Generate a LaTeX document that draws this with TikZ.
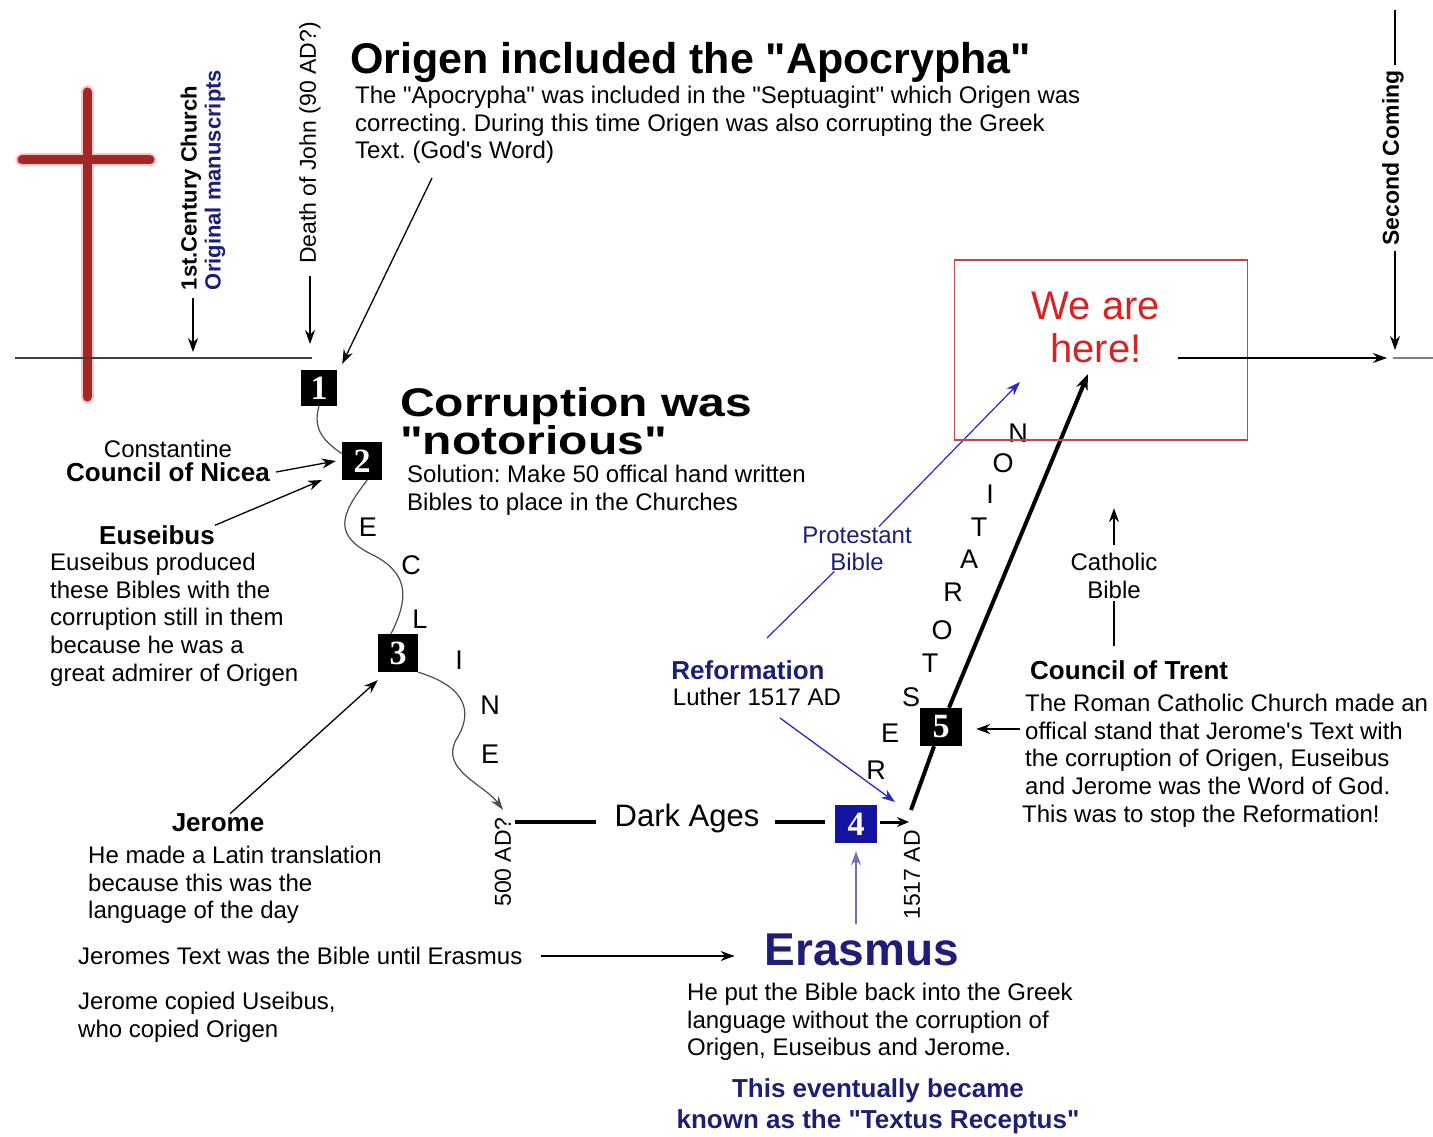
\documentclass[tikz,border=0pt]{standalone}
\usepackage{fontspec}
\setmainfont{Liberation Sans}[Ligatures=TeXOff]
\newfontfamily\numfont{Liberation Serif}
\usetikzlibrary{arrows.meta,positioning,calc}
\definecolor{crossred}{RGB}{160,40,40}
\definecolor{navyblue}{RGB}{30,30,120}
\definecolor{boxblue}{RGB}{20,20,160}
\definecolor{herered}{RGB}{215,35,35}
\definecolor{framered}{RGB}{195,70,70}
\definecolor{erasarrow}{RGB}{120,110,180}
\definecolor{protblue}{RGB}{40,40,200}
\frenchspacing

\begin{document}
\begin{tikzpicture}[x=1pt,y=-1pt,
    body/.style={font=\fontsize{24}{27.7}\selectfont, align=left, inner sep=0pt},
    head/.style={font=\fontsize{26}{31}\selectfont\bfseries, inner sep=0pt},
    numbox/.style={fill=black, text=white, font=\fontsize{34}{34}\numfont\bfseries, minimum width=40pt, minimum height=38pt, inner sep=0pt},
    letter/.style={font=\fontsize{27}{27}\selectfont, inner sep=0pt},
    vlabel/.style={rotate=90, inner sep=0pt, font=\fontsize{23}{23}\selectfont},
    arr/.style={-{Stealth[length=14pt,width=10pt]}, line width=1.3pt}]
    \useasboundingbox (0,0) rectangle (1433,1137);

    % Cross
    \draw[red!60, line width=13pt, opacity=.4, line cap=round] (87,92) -- (87,397) (22,160) -- (150,160);
    \draw[crossred, line width=9pt, line cap=round] (87,92) -- (87,397);
    \draw[crossred, line width=9pt, line cap=round] (22,160) -- (150,160);

    % Timeline
    \coordinate (tl0) at (15,358);
    \coordinate (tl1) at (312,358);
    \draw[line width=1.5pt, black!75] (tl0) -- (tl1);

    % Vertical labels
    \node[vlabel, font=\fontsize{22}{22}\selectfont\bfseries] (century) at (191,188) {1st.Century Church};
    \node[vlabel, font=\fontsize{22}{22}\selectfont\bfseries, text=navyblue] (origms) at (215,180) {Original manuscripts};
    \coordinate (centtip) at (193,352);
    \draw[arr] ([yshift=-8pt]century.west -| centtip) -- (centtip);
    \node[vlabel] (john) at (310,143) {Death of John (90 AD?)};
    \coordinate (johntip) at (310,344);
    \draw[arr] ([yshift=-12pt]john.west) -- (johntip);

    % Origen
    \node[anchor=west, inner sep=0pt, font=\fontsize{43}{43}\selectfont\bfseries] (origen) at (350,62) {Origen included the "Apocrypha"};
    \node[body, anchor=north west] (origenb) at (355,86) {The "Apocrypha" was included in the "Septuagint" which Origen was\\correcting. During this time Origen was also corrupting the Greek\\Text. (God's Word)};

    % Numbered boxes
    \node[numbox, minimum width=36pt, minimum height=36pt] (b1) at (319,388) {1};
    \node[numbox] (b2) at (362,461) {2};
    \node[numbox] (b3) at (398,653) {3};
    \node[numbox, fill=boxblue, minimum width=42pt] (b4) at (856,824) {4};
    \node[numbox, minimum width=42pt] (b5) at (941,727) {5};

    \coordinate (origtail) at (432,178);
    \draw[arr] (origtail) -- ([shift={(5pt,6pt)}]b1.north east);

    % Corruption
    \node[anchor=north west, inner sep=0pt, xscale=1.2, align=left, font=\fontsize{40}{38}\selectfont\bfseries] (corrupt) at (400,387) {Corruption was\\"notorious"};
    \node[body, anchor=north west] (solution) at (407,465) {Solution: Make 50 offical hand written\\Bibles to place in the Churches};

    % Decline
    \draw[black!70, line width=1.2pt] (b1.south) .. controls (312,430) and (325,442) .. (b2.160);
    \draw[black!70, line width=1.2pt] (b2.285) .. controls (340,515) and (332,536) .. (375,556) .. controls (410,575) and (408,600) .. (b3.110);
    \coordinate (dk0) at (503,810);
    \draw[black!70, line width=1.2pt, -{Stealth[length=14pt,width=9pt]}] (b3.south east) .. controls (470,688) and (472,715) .. (456,740) .. controls (440,770) and (485,785) .. (dk0);
    \foreach \l/\x/\y [count=\k] in {E/368/527, C/411/565, L/420/619, I/459/660, N/490/705, E/490/754}
        \node[letter] (decl\k) at (\x,\y) {\l};

    % Left notes
    \node[body] (const) at (168,449) {Constantine};
    \node[head] (nicea) at (168,472) {Council of Nicea};
    \draw[arr] ([xshift=6pt]nicea.east) -- ([xshift=-6pt]b2.west);
    \node[head] (euseb) at (157,535) {Euseibus};
    \node[body, anchor=north west] (eusebb) at (50,553) {Euseibus produced\\these Bibles with the\\corruption still in them\\because he was a\\great admirer of Origen};
    \coordinate (euseptip) at (322,480);
    \draw[arr] (euseb.north east) -- (euseptip);
    \node[head] (jerome) at (218,823) {Jerome};
    \node[body, anchor=north west] (jeromeb) at (88,846) {He made a Latin translation\\because this was the\\language of the day};
    \draw[arr] ([xshift=12pt]jerome.north) -- ([yshift=-8pt]b3.south west);
    \node[body, anchor=west] (jtext) at (78,956) {Jeromes Text was the Bible until Erasmus};
    \node[body, anchor=north west] (jcopy) at (78,992) {Jerome copied Useibus,\\who copied Origen};

    % Dark Ages
    \coordinate (dk1) at (515,822);
    \node[vlabel] (ad500) at (503,862) {500 AD?};
    \node[inner sep=0pt, font=\fontsize{31}{31}\selectfont] (dark) at (687,818) {Dark Ages};
    \draw[line width=4pt] (dk1) -- ([xshift=-18pt]dark.west |- dk1);
    \draw[line width=4pt] ([xshift=15pt]dark.east |- dk1) -- ([xshift=-10pt]b4.west |- dk1);
    \coordinate (rs0) at (911,810);
    \draw[line width=3pt, -{Stealth[length=12pt,width=10pt]}] ([xshift=3pt]b4.east |- dk1) -- ([xshift=-2pt]rs0 |- dk1);
    \node[vlabel] (ad1517) at (912,875) {1517 AD};

    % Erasmus
    \node[inner sep=0pt, font=\fontsize{46}{46}\selectfont\bfseries, text=navyblue] (erasmus) at (862,950) {Erasmus};
    \draw[arr] ([xshift=18pt]jtext.east) -- ([xshift=-30pt]erasmus.west |- jtext);
    \draw[erasarrow, line width=1.3pt, -{Stealth[length=14pt,width=10pt]}] ([yshift=10pt]erasmus.north -| b4) -- ([yshift=-8pt]b4.south);
    \node[body, anchor=north west] (erasb) at (687,983) {He put the Bible back into the Greek\\language without the corruption of\\Origen, Euseibus and Jerome.};
    \node[head, text=navyblue, align=center] (textus) at (878,1106) {This eventually became\\known as the "Textus Receptus"};

    % Reformation
    \node[head, text=navyblue] (reform) at (748,670) {Reformation};
    \node[body] (luther) at (757,697) {Luther 1517 AD};
    \coordinate (reftail) at (780,718);
    \coordinate (reftip) at (895,802);
    \draw[protblue, line width=1.3pt, -{Stealth[length=14pt,width=10pt]}] (reftail) -- (reftip);

    % Restoration
    \coordinate (rs1) at (1088,374);
    \draw[line width=4pt] (rs0) -- (b5);
    \draw[line width=4pt, -{Stealth[length=16pt,width=12pt]}] (b5) -- (rs1);
    \foreach \l/\x/\y [count=\k] in {R/876/770, E/890/733, S/911/697, T/930/663, O/942/630, R/953/592, A/969/559, T/979/527, I/990/494, O/1003/463, N/1018/433}
        \node[letter] (rest\k) at (\x,\y) {\l};

    % Protestant Bible
    \node[body, text=navyblue, align=center] (prot) at (857,549) {Protestant\\Bible};
    \coordinate (pb0) at (767,638);
    \coordinate (pb1) at (1020,382);
    \draw[protblue, line width=1.2pt] (pb0) -- (prot);
    \draw[protblue, line width=1.2pt, -{Stealth[length=14pt,width=10pt]}] (prot) -- (pb1);

    % We are here
    \node[draw=framered, line width=1.3pt, minimum width=293pt, minimum height=180pt, inner sep=0pt] (herebox) at (1101,350) {};
    \node[text=herered, align=center, inner sep=0pt, font=\fontsize{40}{43}\selectfont] (here) at (1096,327) {We are\\here!};
    \coordinate (nowpt) at (1178,358);
    \coordinate (sctip) at (1387,358);
    \draw[arr] (nowpt) -- (sctip);

    % Second Coming
    \node[vlabel, inner sep=5pt, font=\fontsize{23}{23}\selectfont\bfseries] (second) at (1393,158) {Second Coming};
    \coordinate (sctop) at (1395,10);
    \coordinate (scend) at (1395,350);
    \draw[line width=1.3pt] (sctop) -- (second.east -| sctop);
    \draw[arr] (second.west -| sctop) -- (scend);
    \draw[black!50, line width=1.5pt] (1393,358) -- (1433,358);

    % Council of Trent
    \node[body, align=center] (cath) at (1114,576) {Catholic\\Bible};
    \draw[arr] ([yshift=8pt]cath.north) -- ([yshift=45pt]cath.north);
    \node[head, anchor=west] (trent) at (1030,670) {Council of Trent};
    \draw[line width=1.3pt] ([yshift=-2pt]cath.south) -- ([yshift=14pt]trent.north -| cath);
    \node[body, anchor=north west] (trentb) at (1025,694) {The Roman Catholic Church made an\\offical stand that Jerome's Text with\\the corruption of Origen, Euseibus\\and Jerome was the Word of God.};
    \node[body, anchor=west] (stop) at (1022,816) {This was to stop the Reformation!};
    \coordinate (trentarr) at (1020,729);
    \draw[arr] (trentarr) -- ([xshift=14pt]b5.east |- trentarr);
\end{tikzpicture}
\end{document}
